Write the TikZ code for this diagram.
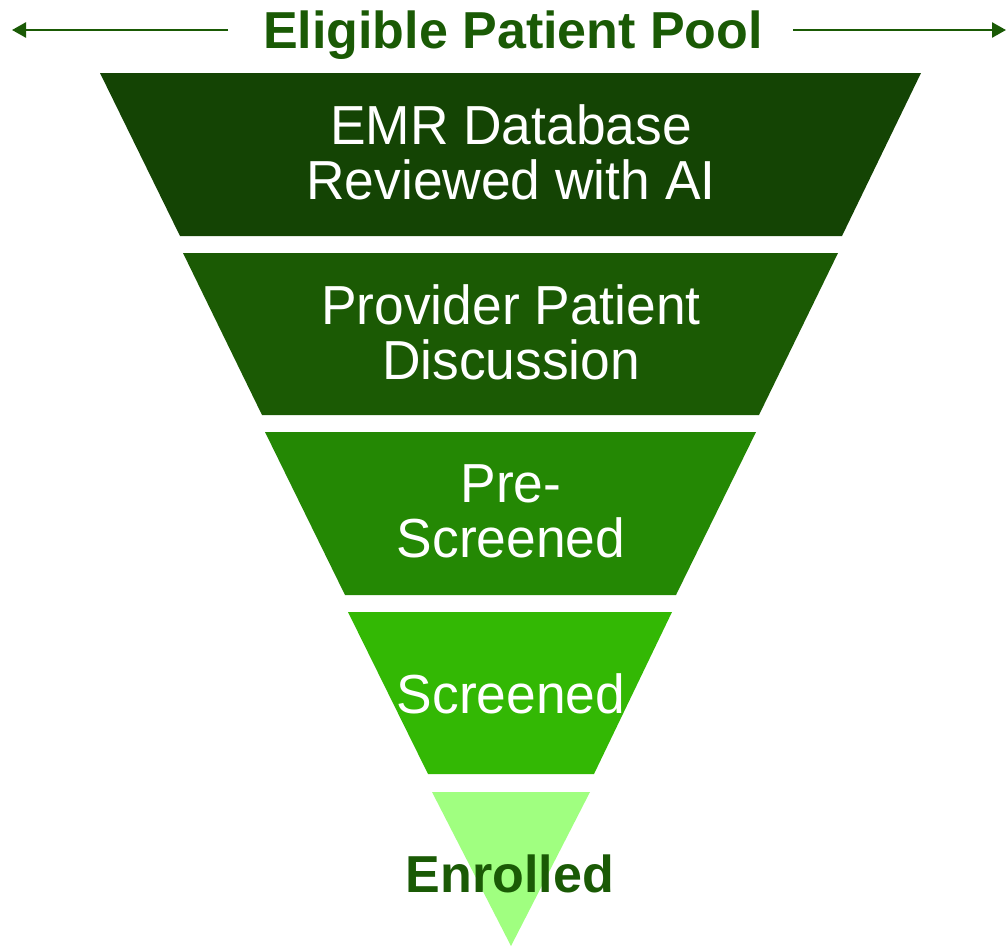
\documentclass[tikz,border=0pt]{standalone}
\usepackage{fontspec}
\setmainfont{Liberation Sans}
\newfontfamily\bodyfont[FakeStretch=0.97]{Liberation Sans}
\usetikzlibrary{arrows.meta}
\definecolor{cA}{HTML}{144404}
\definecolor{cB}{HTML}{1B5A04}
\definecolor{cC}{HTML}{248804}
\definecolor{cD}{HTML}{33B804}
\definecolor{cE}{HTML}{A0FF80}
\definecolor{titlec}{HTML}{1A5A05}
\begin{document}
\begin{tikzpicture}[x=1pt,y=-1pt,
  lbl/.style={text=white,font=\bodyfont\fontsize{55}{55}\selectfont,align=center,inner sep=0pt},
  pool/.style={draw=titlec,line width=2.5pt,-{Triangle[length=14pt,width=15pt]}}]
\useasboundingbox (0,0) rectangle (1007,948);
\fill[cA] (100,73) -- (921,73) -- (842,236) -- (180,236) -- cycle;
\fill[cB] (183,253) -- (838,253) -- (759,415) -- (262,415) -- cycle;
\fill[cC] (265,432) -- (756,432) -- (676,595) -- (345,595) -- cycle;
\fill[cD] (348,612) -- (672,612) -- (594,774) -- (428,774) -- cycle;
\fill[cE] (432,792) -- (590,792) -- (511,946) -- cycle;
\node[lbl] (t1) at (511,152) {EMR Database\\Reviewed with AI};
\node[lbl] (t2) at (511,332) {Provider Patient\\Discussion};
\node[lbl] (t3) at (511,511) {Pre-\\Screened};
\node[lbl,anchor=base] (t4) at (511,713) {Screened};
\node[text=titlec,font=\fontsize{52}{52}\selectfont\bfseries,inner sep=0pt,anchor=base] (t5) at (510,892) {Enrolled};
\node[text=titlec,font=\fontsize{52}{52}\selectfont\bfseries,inner sep=0pt,anchor=base] (title) at (513,48) {Eligible Patient Pool};
\coordinate (ls) at (228,30);
\coordinate (rs) at (793,30);
\coordinate (lend) at (12,30);
\coordinate (rend) at (1006,30);
\draw[pool] (ls) -- (lend);
\draw[pool] (rs) -- (rend);
\end{tikzpicture}
\end{document}
